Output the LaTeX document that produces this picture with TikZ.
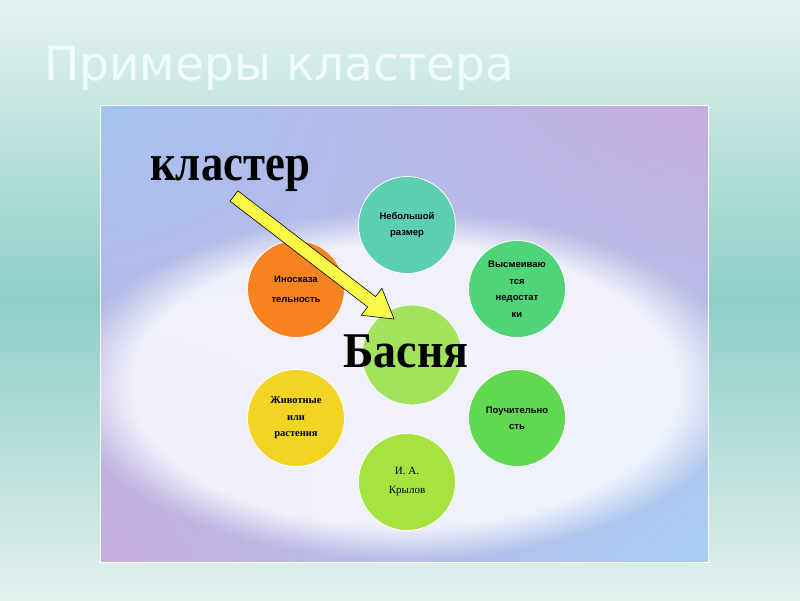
\documentclass[tikz,border=0pt]{standalone}
\usepackage{fontspec}
\setmainfont{Liberation Serif}
\newfontfamily\arialfont{Liberation Sans}
\newfontfamily\titlefont{DejaVu Sans}
\usetikzlibrary{calc,fadings,shadings,positioning}
\definecolor{tealtop}{RGB}{228,242,240}
\definecolor{tealmid}{RGB}{142,207,199}
\definecolor{tealbot}{RGB}{226,240,238}
\definecolor{picblue}{RGB}{164,196,240}
\definecolor{piclilac}{RGB}{198,172,222}
\definecolor{picsky}{RGB}{166,206,244}
\definecolor{tealbubble}{RGB}{92,206,178}
\definecolor{mintbubble}{RGB}{80,212,122}
\definecolor{orangebubble}{RGB}{246,130,32}
\definecolor{limebubble}{RGB}{162,226,92}
\definecolor{yellowbubble}{RGB}{242,212,36}
\definecolor{greenbubble}{RGB}{96,216,80}
\definecolor{leafbubble}{RGB}{166,226,64}
\definecolor{arrowyellow}{RGB}{250,250,70}
\definecolor{titlewhite}{RGB}{240,252,250}
\tikzfading[name=midband, left color=transparent!100,
  middle color=transparent!30, right color=transparent!100]
\tikzset{
  bubble/.style={circle, draw=white, line width=0.8pt,
    minimum size=97pt, inner sep=0pt, align=center,
    font=\arialfont\bfseries\fontsize{9.5}{16}\selectfont},
  serifbubble/.style={bubble, font=\fontsize{10.5}{16.5}\selectfont},
  bigword/.style={font=\bfseries\fontsize{52}{56}\selectfont, inner sep=0pt},
  titletext/.style={font=\titlefont\fontsize{47}{50}\selectfont,
    text=titlewhite, inner sep=0pt},
  arrowbody/.style={draw=black, line width=0.6pt, fill=arrowyellow,
    line join=miter},
}

\begin{document}
\begin{tikzpicture}[x=1pt, y=-1pt]
  \useasboundingbox (0,0) rectangle (800,600);

  % slide background
  \shade[top color=tealtop, bottom color=tealbot, middle color=tealmid]
    (0,0) rectangle (800,600);

  % picture background
  \begin{scope}
    \clip (100,105) rectangle (708,562);
    \shade[upper left=picblue, upper right=piclilac,
           lower left=piclilac, lower right=picsky]
      (100,105) rectangle (708,562);
    \fill[white, path fading=midband] (260,105) rectangle (550,562);
    \fill[white, opacity=0.8, path fading=circle with fuzzy edge 20 percent]
      (405,385) ellipse [x radius=340, y radius=175];
  \end{scope}
  \draw[white, line width=1pt] (100,105) rectangle (708,562);

  % title
  \node[titletext, anchor=base west] (title) at (44,80) {Примеры кластера};

  % bubbles
  \node[bubble, fill=limebubble, minimum size=100pt] (basnya) at (412,355) {};
  \node[bubble, fill=tealbubble] (size) at (407,225) {Небольшой\\размер};
  \node[bubble, fill=mintbubble, font=\arialfont\bfseries\fontsize{9.5}{16.5}\selectfont]
    (vices) at (517,289) {Высмеиваю\\тся\\недостат\\ки};
  \node[bubble, fill=orangebubble, font=\arialfont\bfseries\fontsize{9.5}{20}\selectfont]
    (allegory) at (296,289) {Иносказа\\тельность};
  \node[serifbubble, fill=yellowbubble, font=\bfseries\fontsize{10.5}{16.5}\selectfont]
    (animals) at (296,418) {Животные\\или\\растения};
  \node[bubble, fill=greenbubble] (moral) at (517,418) {Поучительно\\сть};
  \node[serifbubble, fill=leafbubble, font=\fontsize{11}{19}\selectfont]
    (krylov) at (407,482) {И. А.\\Крылов};

  % words
  \node[bigword, anchor=base west, xscale=0.86] (klaster) at (150,180) {кластер};
  \node[bigword, anchor=base, xscale=0.92, font=\bfseries\fontsize{50}{54}\selectfont]
    (word) at (406,367) {Басня};

  % arrow from the word to the centre
  \coordinate (kstart) at (234,196);
  \coordinate (ktip) at ($(basnya.center)+(-18,-36)$);
  \coordinate (kneck) at ($(kstart)!0.86!(ktip)$);
  \draw[arrowbody]
    ($(kstart)!6.5pt!90:(ktip)$) -- ($(kneck)!6.5pt!-90:(kstart)$)
    -- ($(kneck)!17pt!-90:(kstart)$) -- (ktip)
    -- ($(kneck)!17pt!90:(kstart)$) -- ($(kneck)!6.5pt!90:(kstart)$)
    -- ($(kstart)!6.5pt!-90:(ktip)$) -- cycle;
\end{tikzpicture}
\end{document}
